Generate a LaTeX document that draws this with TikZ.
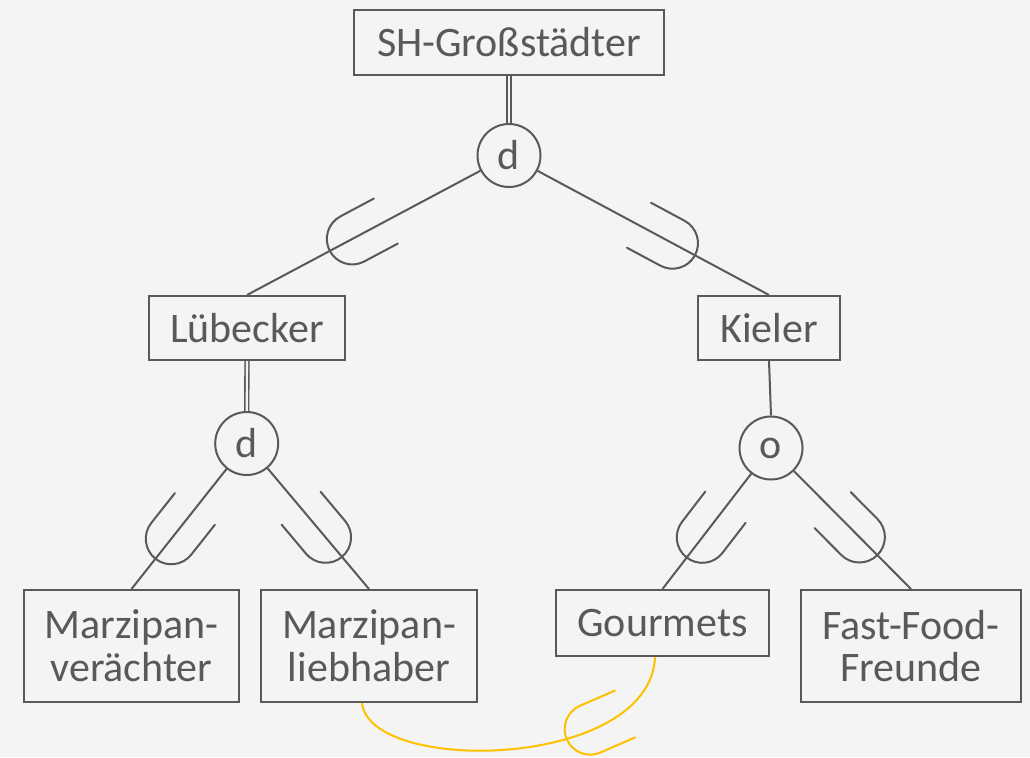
\documentclass[tikz,border=0pt]{standalone}
\usepackage{fontspec}
\setmainfont{Carlito}
\usetikzlibrary{calc}
\definecolor{ink}{HTML}{595959}
\definecolor{paper}{HTML}{F4F4F4}
\definecolor{amber}{HTML}{FFC000}

% subset mark: two legs ending at the origin side, rounded end towards +x
\tikzset{
  pics/cupmark/.style={code={
    \draw (0,25.5) -- (38,25.5) arc[start angle=90,end angle=-90,radius=25.5] -- (0,-25.5);
  }},
  entity/.style={draw=ink, line width=1.5pt, text=ink, inner sep=0pt,
    font=\fontsize{31.5}{32}\selectfont, align=center},
  gate/.style={circle, draw=ink, line width=1.5pt, text=ink, inner sep=0pt,
    minimum size=47.25pt, font=\fontsize{31.5}{32}\selectfont},
  link/.style={draw=ink, line width=1.5pt},
  dlink/.style={draw=ink, line width=1.2pt, double=paper, double distance=1.6pt},
}

% place a subset mark on the straight connector #1 -- #2 at fraction #3
\newcommand\subsetmark[4][ink]{%
  \path[draw=#1, line width=1.5pt, line cap=round]
    let \p1=($(#3)-(#2)$), \n1={atan2(\y1,\x1)} in
    ($(#2)!#4!(#3)$) pic[rotate=\n1]{cupmark};
}

\begin{document}
\begin{tikzpicture}[x=0.75pt, y=-0.75pt]
  \fill[paper] (0,0) rectangle (1030,757);
  \useasboundingbox (0,0) rectangle (1030,757);

  % entities
  \node[entity, minimum width=232.5pt, minimum height=48.75pt] (sh)  at (509,42.5) {SH-Großstädter};
  \node[entity, minimum width=147pt,   minimum height=48pt]    (lue) at (247,328) {Lübecker};
  \node[entity, minimum width=106.5pt, minimum height=48pt]    (kie) at (769,328) {Kieler};
  \node[entity, minimum width=161.25pt, minimum height=84pt]   (mv)  at (131.5,646) {Marzipan-\\verächter};
  \node[entity, minimum width=162pt,   minimum height=84pt]    (ml)  at (369,646) {Marzipan-\\liebhaber};
  \node[entity, minimum width=159.75pt, minimum height=49.5pt] (gm)  at (662.5,623) {Gourmets};
  \node[entity, minimum width=165pt,   minimum height=84pt]    (ff)  at (911,646) {Fast-Food-\\Freunde};

  % specialisation circles
  \node[gate] (d1) at (509,155.5) {d};
  \node[gate] (d2) at (246.7,443.5) {d};
  \node[gate] (o1) at (771,448) {o};

  % connectors
  \path[dlink] (sh.south) -- (d1.north);
  \path[dlink] (lue.south) -- (d2.north);
  \path[link]  (kie.south) -- (o1.north);

  \path[link] (d1) -- (lue.north);
  \path[link] (d1) -- (kie.north);
  \path[link] (d2) -- (mv.north);
  \path[link] (d2) -- (ml.north);
  \path[link] (o1) -- (gm.north);
  \path[link] (o1) -- (ff.north);

  \subsetmark{d1}{lue.north}{0.47}
  \subsetmark{d1}{kie.north}{0.50}
  \subsetmark{d2}{mv.north}{0.45}
  \subsetmark{d2}{ml.north}{0.445}
  \subsetmark{o1}{gm.north}{0.42}
  \subsetmark{o1}{ff.north}{0.44}

  % disjointness link between Gourmets and Marzipanliebhaber
  \coordinate (ga) at ([xshift=-5.6pt]gm.south);
  \coordinate (mb) at ([xshift=-5.25pt]ml.south);
  \draw[amber, line width=1.5pt] (ga) .. controls (650,770) and (370,775) .. (mb);
  \coordinate (gcup) at (625,714);
  \path[draw=amber, line width=1.5pt, line cap=round]
    (gcup) pic[rotate=203.5]{cupmark};
\end{tikzpicture}
\end{document}
